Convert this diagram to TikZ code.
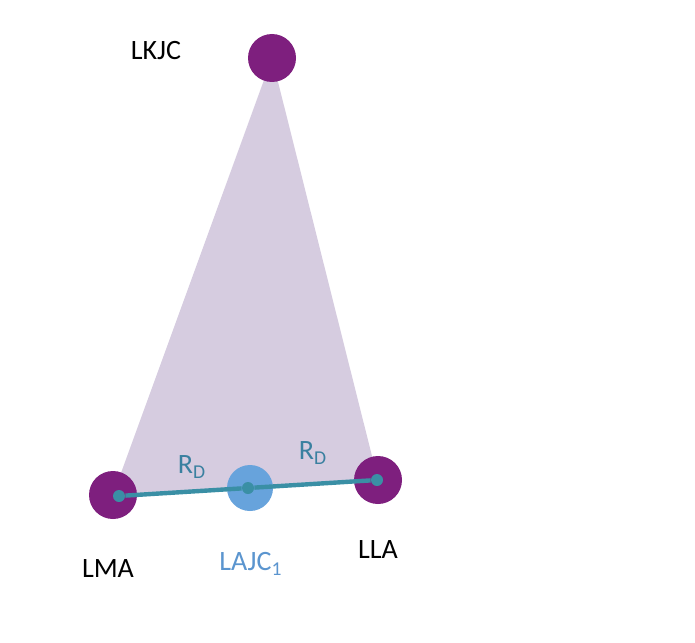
\documentclass[tikz,border=0pt]{standalone}
\usepackage{fontspec}
\setmainfont{Carlito}
\definecolor{jointpurple}{RGB}{126,31,126}
\definecolor{shadelilac}{RGB}{214,204,224}
\definecolor{ajcblue}{RGB}{103,163,220}
\definecolor{segteal}{RGB}{58,143,165}
\definecolor{labteal}{RGB}{58,128,160}
\definecolor{lablue}{RGB}{91,149,207}
\begin{document}
\begin{tikzpicture}[x=0.5pt,y=-0.5pt,
    joint/.style={circle,fill=jointpurple,minimum size=24pt,inner sep=0pt},
    centre/.style={circle,fill=ajcblue,minimum size=23pt,inner sep=0pt},
    pin/.style={circle,fill=segteal,minimum size=6pt,inner sep=0pt},
    lab/.style={font=\fontsize{14}{16}\selectfont}]
    \useasboundingbox[fill=white] (0,0) rectangle (695,642);
    % shaded leg triangle
    \fill[shadelilac] (272,58) -- (113,495) -- (378,480) -- cycle;
    \node[joint] (LKJC) at (272,58) {};
    \node[joint] (LMA) at (113,495) {};
    \node[joint] (LLA) at (378,480) {};
    \node[centre] (LAJC) at (250,488) {};
    \node[pin] (pLMA) at (119,496) {};
    \node[pin] (pLLA) at (377,480) {};
    \node[pin] (pLAJC) at (248,488) {};
    \draw[segteal,line width=2.2pt] (pLMA) -- (pLAJC) -- (pLLA);
    \node[lab] (tLKJC) at (156,51) {LKJC};
    \node[lab] (tLMA) at (108,569) {LMA};
    \node[lab] (tLLA) at (378,550) {LLA};
    \node[lab,text=lablue] (tLAJC) at (251,564) {LAJC\textsubscript{1}};
    \node[lab,text=labteal] (r1) at (192,467) {R\textsubscript{D}};
    \node[lab,text=labteal] (r2) at (313,453) {R\textsubscript{D}};
\end{tikzpicture}
\end{document}
